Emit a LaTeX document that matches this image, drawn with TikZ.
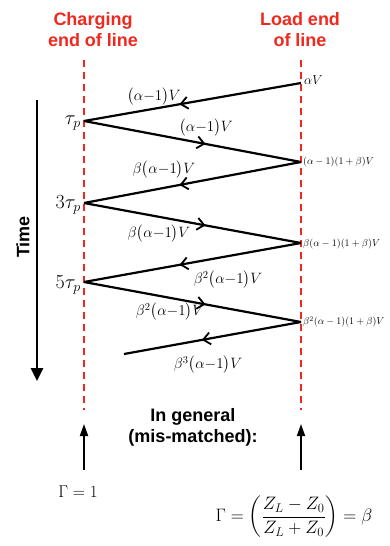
\RequirePackage{fix-cm}
\documentclass[tikz,border=0pt]{standalone}
\usepackage{amsmath}
\usepackage{fontspec}
\setsansfont{Liberation Sans}
\usetikzlibrary{arrows.meta,decorations.markings}
\definecolor{linered}{RGB}{240,40,30}

\begin{document}
\begin{tikzpicture}[x=1pt,y=-1pt]
\tikzset{
  heading/.style={font=\fontsize{18}{21}\selectfont\sffamily\bfseries,align=center,inner sep=0pt},
  lineend/.style={linered,line width=1.8pt,dash pattern=on 7pt off 5pt},
  wave/.style={line width=2.2pt,postaction={decorate},
    decoration={markings,mark=at position 0.56 with {\arrow{Straight Barb[length=7pt,width=12pt,line width=1.8pt]}}}},
  wavelabel/.style={font=\fontsize{15}{17}\selectfont,inner sep=0pt},
  loadlabel/.style={font=\fontsize{10}{12}\selectfont,anchor=west,inner sep=0pt},
  timelabel/.style={font=\fontsize{20}{22}\selectfont,anchor=east,inner sep=0pt},
  timeaxis/.style={line width=2.6pt,-{Triangle[length=13pt,width=12pt]}},
  gammaarrow/.style={line width=1.8pt,-{Triangle[length=12pt,width=8pt]}}
}
\useasboundingbox (0,0) rectangle (390,546);
% line ends
\coordinate (l_top) at (84,60);
\coordinate (l_bot) at (84,410);
\coordinate (r_top) at (301,60);
\coordinate (r_bot) at (301,410);
\draw[lineend] (l_top) -- (l_bot);
\draw[lineend] (r_top) -- (r_bot);
\node[heading,text=linered] (h_charge) at (93,30) {Charging\\end of line};
\node[heading,text=linered] (h_load) at (300,30) {Load end\\of line};
% bounce points
\coordinate (z0) at (301,83);
\coordinate (z1) at (84,121);
\coordinate (z2) at (301,162);
\coordinate (z3) at (84,203);
\coordinate (z4) at (301,243);
\coordinate (z5) at (84,282);
\coordinate (z6) at (301,322);
\coordinate (z7) at (124,354);
\draw[wave] (z0) -- (z1);
\draw[wave] (z1) -- (z2);
\draw[wave] (z2) -- (z3);
\draw[wave] (z3) -- (z4);
\draw[wave] (z4) -- (z5);
\draw[wave] (z5) -- (z6);
\draw[wave] (z6) -- (z7);
% wave labels
\node[wavelabel] (w_1) at (154,97) {$\bigl(\alpha{-}1\bigr)V$};
\node[wavelabel] (w_2) at (206,128) {$\bigl(\alpha{-}1\bigr)V$};
\node[wavelabel] (w_3) at (164,170) {$\beta\bigl(\alpha{-}1\bigr)V$};
\node[wavelabel] (w_4) at (159,234) {$\beta\bigl(\alpha{-}1\bigr)V$};
\node[wavelabel] (w_5) at (228,280) {$\beta^2\bigl(\alpha{-}1\bigr)V$};
\node[wavelabel] (w_6) at (170,312) {$\beta^2\bigl(\alpha{-}1\bigr)V$};
\node[wavelabel] (w_7) at (208,365) {$\beta^3\bigl(\alpha{-}1\bigr)V$};
% load voltages
\node[loadlabel] (v_0) at (304,80) {\fontsize{13}{15}\selectfont$\alpha V$};
\node[loadlabel] (v_1) at (303,162) {$(\alpha-1)(1+\beta)V$};
\node[loadlabel] (v_2) at (303,244) {$\beta(\alpha-1)(1+\beta)V$};
\node[loadlabel] (v_3) at (303,322) {$\beta^2(\alpha-1)(1+\beta)V$};
% times
\node[timelabel] (t_1) at (81,123) {$\tau_p$};
\node[timelabel] (t_3) at (81,205) {$3\tau_p$};
\node[timelabel] (t_5) at (81,285) {$5\tau_p$};
\coordinate (t_top) at (37,100);
\coordinate (t_bot) at (37,381);
\draw[timeaxis] (t_top) -- (t_bot);
\node[heading,rotate=90] (t_name) at (23,237) {Time};
% reflection coefficients
\node[heading] (general) at (193,427) {In general\\(mis-matched):};
\coordinate (g_l0) at (84,470);
\coordinate (g_l1) at (84,424);
\coordinate (g_r0) at (301,470);
\coordinate (g_r1) at (301,424);
\draw[gammaarrow] (g_l0) -- (g_l1);
\draw[gammaarrow] (g_r0) -- (g_r1);
\node[wavelabel,font=\fontsize{17}{19}\selectfont] (gam_l) at (78,492) {$\Gamma=1$};
\node[wavelabel,font=\fontsize{18}{20}\selectfont] (gam_r) at (294,517) {$\Gamma=\left(\dfrac{Z_L-Z_0}{Z_L+Z_0}\right)=\beta$};
\end{tikzpicture}
\end{document}
